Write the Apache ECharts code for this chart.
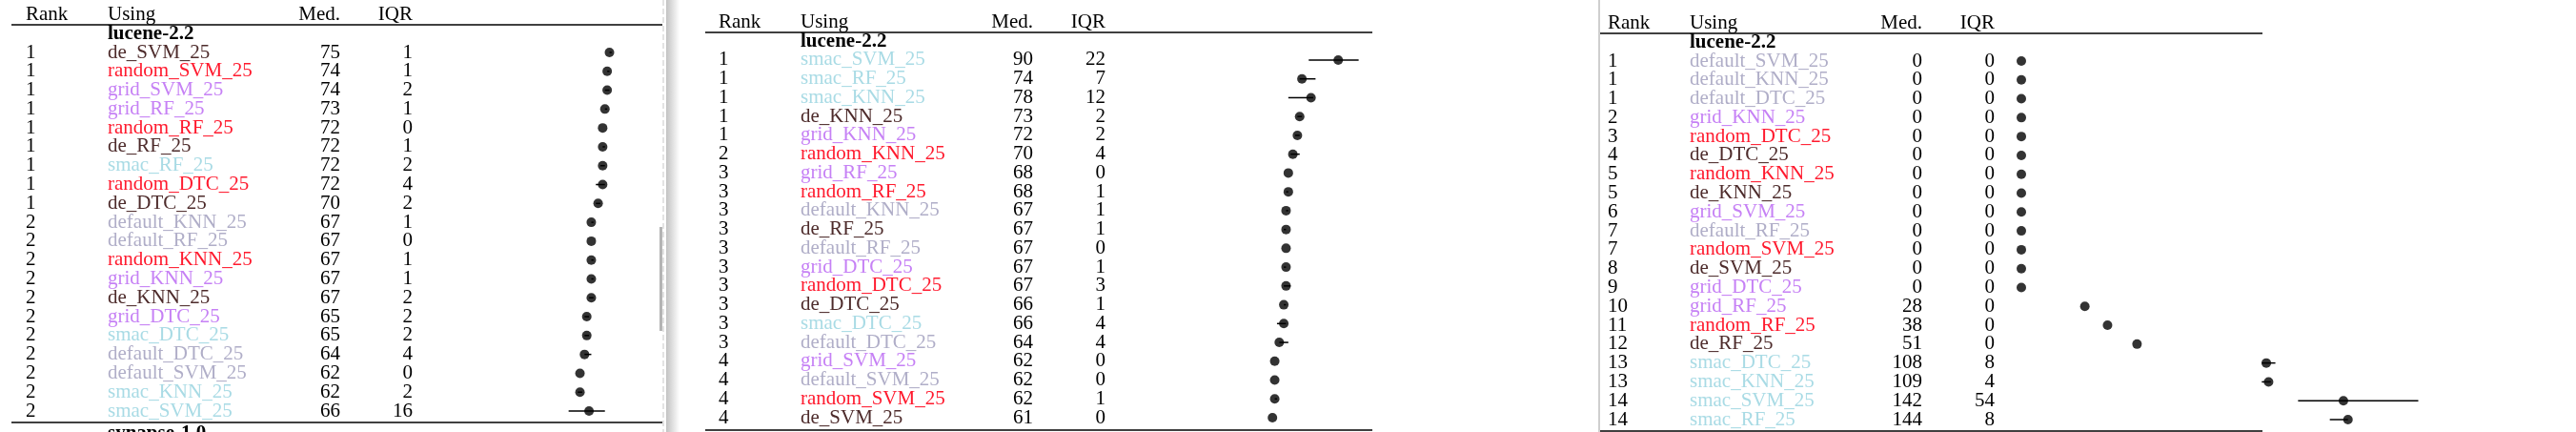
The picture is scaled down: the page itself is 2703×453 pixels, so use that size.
<!DOCTYPE html>
<html>
<head>
<meta charset="utf-8">
<script src="https://cdn.jsdelivr.net/npm/echarts@6/dist/echarts.min.js"></script>
<style>html,body{margin:0;padding:0;background:#fff}#c{width:2703px;height:453px}</style>
</head>
<body>
<div id="c"></div>
<script>
// ---------- DATA ----------
const headers = ['Rank', 'Using', 'Med.', 'IQR'];
const datasetName = 'lucene-2.2';
const nextDatasetName = 'synapse-1.0';

// Panel 1
const p1Names = ['de_SVM_25','random_SVM_25','grid_SVM_25','grid_RF_25','random_RF_25','de_RF_25','smac_RF_25','random_DTC_25','de_DTC_25','default_KNN_25','default_RF_25','random_KNN_25','grid_KNN_25','de_KNN_25','grid_DTC_25','smac_DTC_25','default_DTC_25','default_SVM_25','smac_KNN_25','smac_SVM_25'];
const p1Ranks = [1,1,1,1,1,1,1,1,1,2,2,2,2,2,2,2,2,2,2,2];
const p1Med   = [75,74,74,73,72,72,72,72,70,67,67,67,67,67,65,65,64,62,62,66];
const p1Iqr   = [1,1,2,1,0,1,2,4,2,1,0,1,1,2,2,2,4,0,2,16];
const p1Lo    = [75,74,73,73,72,72,71,69,69,67,67,67,67,66,64,64,64,62,61,57];
const p1Hi    = [76,75,75,74,72,73,73,73,71,68,67,68,68,68,66,66,67,62,63,73];

// Panel 2
const p2Names = ['smac_SVM_25','smac_RF_25','smac_KNN_25','de_KNN_25','grid_KNN_25','random_KNN_25','grid_RF_25','random_RF_25','default_KNN_25','de_RF_25','default_RF_25','grid_DTC_25','random_DTC_25','de_DTC_25','smac_DTC_25','default_DTC_25','grid_SVM_25','default_SVM_25','random_SVM_25','de_SVM_25'];
const p2Ranks = [1,1,1,1,1,2,3,3,3,3,3,3,3,3,3,3,4,4,4,4];
const p2Med   = [90,74,78,73,72,70,68,68,67,67,67,67,67,66,66,64,62,62,62,61];
const p2Iqr   = [22,7,12,2,2,4,0,1,1,1,0,1,3,1,4,4,0,0,1,0];
const p2Lo    = [77,73,68,72,71,69,68,67,67,66,67,66,66,66,63,64,62,62,62,61];
const p2Hi    = [99,80,79,74,73,73,68,68,68,67,67,67,69,67,67,68,62,62,63,61];

// Panel 3
const p3Names = ['default_SVM_25','default_KNN_25','default_DTC_25','grid_KNN_25','random_DTC_25','de_DTC_25','random_KNN_25','de_KNN_25','grid_SVM_25','default_RF_25','random_SVM_25','de_SVM_25','grid_DTC_25','grid_RF_25','random_RF_25','de_RF_25','smac_DTC_25','smac_KNN_25','smac_SVM_25','smac_RF_25'];
const p3Ranks = [1,1,1,2,3,4,5,5,6,7,7,8,9,10,11,12,13,13,14,14];
const p3Med   = [0,0,0,0,0,0,0,0,0,0,0,0,0,28,38,51,108,109,142,144];
const p3Iqr   = [0,0,0,0,0,0,0,0,0,0,0,0,0,0,0,0,8,4,54,8];
const p3Lo    = [0,0,0,0,0,0,0,0,0,0,0,0,0,28,38,51,106,106,122,136];
const p3Hi    = [0,0,0,0,0,0,0,0,0,0,0,0,0,28,38,51,112,110,175,144];

// ---------- STYLE / LAYOUT ----------
const FONT = "'Liberation Serif', 'DejaVu Serif', serif";
const FS = 21;
const nameColors = { de: '#4d2b2b', random: '#ff1a2e', grid: '#c681f5', smac: '#a9dbe5', default: '#b0aec8' };
const COL = { rank: 86, name: 180, med: 64, iqr: 76 };

const panels = [
  { names: p1Names, ranks: p1Ranks, med: p1Med, iqr: p1Iqr, lo: p1Lo, hi: p1Hi,
    x0: 27, plotLeft: 461, top: 45.1, height: 395.8, headY: 15, ruleY: 26, dsY: 36, botY: 443, ruleL: 12, ruleR: 695 },
  { names: p2Names, ranks: p2Ranks, med: p2Med, iqr: p2Iqr, lo: p2Lo, hi: p2Hi,
    x0: 754, plotLeft: 1190, top: 53.1, height: 394.8, headY: 23, ruleY: 34, dsY: 44, botY: 451, ruleL: 740, ruleR: 1440 },
  { names: p3Names, ranks: p3Ranks, med: p3Med, iqr: p3Iqr, lo: p3Lo, hi: p3Hi,
    x0: 1687, plotLeft: 2121, top: 54.1, height: 395.8, headY: 24, ruleY: 35, dsY: 45, botY: 452, ruleL: 1679, ruleR: 2374 }
];

const rich = {
  r: { width: COL.rank, align: 'left', fontFamily: FONT, fontSize: FS, color: '#000' },
  m: { width: COL.med, align: 'right', fontFamily: FONT, fontSize: FS, color: '#000' },
  q: { width: COL.iqr, align: 'right', fontFamily: FONT, fontSize: FS, color: '#000' }
};
Object.keys(nameColors).forEach(k => {
  rich['n' + k] = { width: COL.name, align: 'left', fontFamily: FONT, fontSize: FS, color: nameColors[k] };
});

const grids = [], xAxes = [], yAxes = [], series = [], graphics = [];

function txt(text, x, y, align, bold) {
  return { type: 'text', silent: true, z: 10,
    style: { text, x, y, fill: '#000', font: (bold ? 'bold ' : '') + FS + 'px ' + FONT,
      textAlign: align, textVerticalAlign: 'middle', align: align, verticalAlign: 'middle' } };
}
function hline(x1, x2, y) {
  return { type: 'line', silent: true, z: 10, shape: { x1, y1: y, x2, y2: y }, style: { stroke: '#000', lineWidth: 1.6 } };
}

panels.forEach((p, i) => {
  grids.push({ left: p.plotLeft, top: p.top, width: 476, height: p.height, containLabel: false, outerBoundsMode: 'none' });
  xAxes.push({ type: 'value', gridIndex: i, min: 0, max: 200, show: false });
  yAxes.push({
    type: 'category', gridIndex: i, inverse: true, data: p.names,
    axisLine: { show: false }, axisTick: { show: false }, splitLine: { show: false },
    axisLabel: {
      interval: 0, margin: p.plotLeft - p.x0, align: 'left', verticalAlign: 'middle',
      fontFamily: FONT, fontSize: FS, rich,
      formatter: (v, idx) => {
        const key = v.split('_')[0];
        return '{r|' + p.ranks[idx] + '}{n' + key + '|' + v + '}{m|' + p.med[idx] + '}{q|' + p.iqr[idx] + '}';
      }
    }
  });
  series.push({
    type: 'custom', xAxisIndex: i, yAxisIndex: i, clip: false, silent: true, animation: false, z: 2,
    data: p.names.map((n, k) => [p.lo[k], p.hi[k], k]),
    encode: { x: [0, 1], y: 2 },
    renderItem: (params, api) => {
      const a = api.coord([api.value(0), api.value(2)]);
      const b = api.coord([api.value(1), api.value(2)]);
      return { type: 'line', shape: { x1: a[0], y1: a[1], x2: b[0], y2: b[1] }, style: { stroke: '#000', lineWidth: 1.5 } };
    }
  });
  series.push({
    type: 'scatter', xAxisIndex: i, yAxisIndex: i, clip: false, silent: true, animation: false, z: 3,
    symbol: 'circle', symbolSize: 10, itemStyle: { color: '#000' },
    data: p.names.map((n, k) => [p.med[k], k])
  });
  // header, rules, dataset label
  graphics.push(txt(headers[0], p.x0, p.headY, 'left'));
  graphics.push(txt(headers[1], p.x0 + COL.rank, p.headY, 'left'));
  graphics.push(txt(headers[2], p.x0 + COL.rank + COL.name + COL.med, p.headY, 'right'));
  graphics.push(txt(headers[3], p.x0 + COL.rank + COL.name + COL.med + COL.iqr, p.headY, 'right'));
  graphics.push(hline(p.ruleL, p.ruleR, p.ruleY));
  graphics.push(hline(p.ruleL, p.ruleR, p.botY));
  graphics.push(txt(datasetName, p.x0 + COL.rank, p.dsY, 'left', true));
});
// next dataset label peeking at the bottom of panel 1
graphics.push(txt(nextDatasetName, panels[0].x0 + COL.rank, 455, 'left', true));

// window chrome between panels
graphics.push({ type: 'line', silent: true, shape: { x1: 696, y1: 0, x2: 696, y2: 453 }, style: { stroke: '#c8c8c8', lineWidth: 1, lineDash: [6, 3] } });
graphics.push({ type: 'rect', silent: true, shape: { x: 699, y: 0, width: 14, height: 453 },
  style: { fill: new echarts.graphic.LinearGradient(0, 0, 1, 0, [{ offset: 0, color: '#c2c2c2' }, { offset: 1, color: '#ffffff' }]) } });
graphics.push({ type: 'rect', silent: true, shape: { x: 692, y: 238, width: 3, height: 109 }, style: { fill: '#b4b4b4' } });
graphics.push({ type: 'line', silent: true, shape: { x1: 1678, y1: 0, x2: 1678, y2: 453 }, style: { stroke: '#cfcfcf', lineWidth: 2 } });

const chart = echarts.init(document.getElementById('c'), null, { renderer: 'canvas' });
chart.setOption({
  animation: false,
  backgroundColor: '#fff',
  grid: grids, xAxis: xAxes, yAxis: yAxes, series, graphic: graphics
});
</script>
</body>
</html>
